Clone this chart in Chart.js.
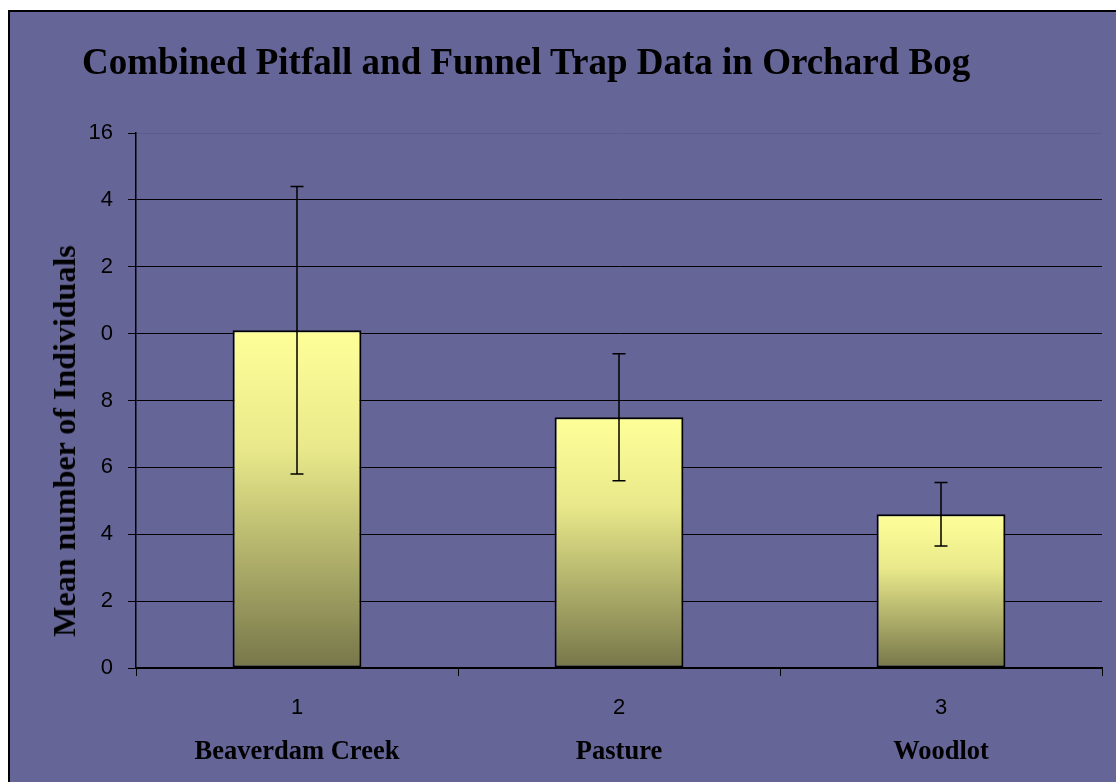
<!DOCTYPE html>
<html>
<head>
<meta charset="utf-8">
<title>Combined Pitfall and Funnel Trap Data in Orchard Bog</title>
<script src="https://cdn.jsdelivr.net/npm/chart.js@4.4.0/dist/chart.umd.min.js"></script>
<style>
  html, body { margin: 0; padding: 0; background: #fff; overflow: hidden; width: 1116px; height: 782px; }
  #frame { position: absolute; left: 8px; top: 10px; width: 1120px; height: 790px; background: #656598;
           border-left: 2px solid #000; border-top: 2px solid #000; }
  #wrap { position: absolute; left: 0; top: 0; width: 1116px; height: 782px; }
  #title { position: absolute; left: 82px; top: 43px; margin: 0; font: bold 37px 'Liberation Serif', 'Times New Roman', serif;
           line-height: 37px; color: #000; white-space: nowrap; }
  #ytitle { position: absolute; left: 64px; top: 441px; margin: 0; font: bold 32px 'Liberation Serif', 'Times New Roman', serif;
            line-height: 36px; color: #000; white-space: nowrap; transform: translate(-50%, -50%) rotate(-90deg); }
  canvas { position: absolute; left: 0; top: 0; }
</style>
</head>
<body>
<div id="frame"></div>
<div id="wrap">
  <canvas id="chart" width="1116" height="782"></canvas>
  <h1 id="title">Combined Pitfall and Funnel Trap Data in Orchard Bog</h1>
  <div id="ytitle">Mean number of Individuals</div>
</div>
<script>
// categories on the x axis and the site names printed under them
const categories = ['1', '2', '3'];
const siteNames = ['Beaverdam Creek', 'Pasture', 'Woodlot'];
// mean number of individuals and the error (+/-) for each site
const meanValues = [10.1, 7.5, 4.6];
const errorValues = [4.3, 1.9, 0.95];
// y tick labels as printed (the two-digit ones are cut short in the original)
const yTickLabels = ['0', '2', '4', '6', '8', '0', '2', '4', '16'];

const SERIF = "'Liberation Serif', 'Times New Roman', serif";
const SANS = "'Liberation Sans', Arial, sans-serif";

// per-bar vertical gradient, pale yellow on top to olive at the base
function barGradient(ctx) {
  const chart = ctx.chart;
  if (!chart.chartArea || ctx.type !== 'data') return '#ffff99';
  const y = chart.scales.y;
  const top = y.getPixelForValue(meanValues[ctx.dataIndex]);
  const bottom = y.getPixelForValue(0);
  const g = chart.ctx.createLinearGradient(0, top, 0, bottom);
  g.addColorStop(0, '#ffff99');
  g.addColorStop(0.35, '#e9e98b');
  g.addColorStop(1, '#76764a');
  return g;
}

const errorBars = {
  id: 'errorBars',
  afterDatasetsDraw(chart) {
    const meta = chart.getDatasetMeta(0);
    const y = chart.scales.y;
    const c = chart.ctx;
    c.save();
    c.strokeStyle = '#000';
    c.lineWidth = 1.5;
    meta.data.forEach((bar, i) => {
      const hi = y.getPixelForValue(meanValues[i] + errorValues[i]);
      const lo = y.getPixelForValue(meanValues[i] - errorValues[i]);
      c.beginPath();
      c.moveTo(bar.x, hi); c.lineTo(bar.x, lo);
      c.moveTo(bar.x - 6.5, hi); c.lineTo(bar.x + 6.5, hi);
      c.moveTo(bar.x - 6.5, lo); c.lineTo(bar.x + 6.5, lo);
      c.stroke();
    });
    c.restore();
  }
};

new Chart(document.getElementById('chart'), {
  type: 'bar',
  data: {
    labels: categories,
    datasets: [{
      data: meanValues,
      backgroundColor: barGradient,
      borderColor: '#000',
      borderWidth: 2,
      borderSkipped: false,
      categoryPercentage: 1,
      barPercentage: 0.4,
    }],
  },
  options: {
    responsive: false,
    devicePixelRatio: 1,
    animation: false,
    layout: { padding: { left: 0, right: 14, top: 133, bottom: 16 } },
    plugins: {
      legend: { display: false },
      tooltip: { enabled: false },
      title: { display: false },
    },
    scales: {
      x: {
        type: 'category',
        offset: true,
        grid: { offset: true, drawOnChartArea: false, color: '#000', tickColor: '#000', tickLength: 8 },
        border: { color: '#000', width: 1.5 },
        ticks: { color: '#000', padding: 19, font: { family: SANS, size: 22 } },
        afterFit: s => { s.height = 53; },
      },
      x2: {
        type: 'category',
        position: 'bottom',
        labels: siteNames,
        offset: true,
        weight: 1,
        grid: { display: false, drawTicks: false },
        border: { display: false },
        ticks: { color: '#000', padding: 15, font: { family: SERIF, size: 26.5, weight: 'bold' } },
        afterFit: s => { s.height = 45; },
      },
      y: {
        min: 0,
        max: 16,
        ticks: {
          stepSize: 2,
          color: '#000',
          padding: 15,
          font: { family: SANS, size: 22 },
          callback: (v, i) => yTickLabels[i],
        },
        grid: {
          color: c => (c.tick && c.tick.value === 16 ? '#5c5c8e' : '#000'),
          tickColor: '#000',
          tickLength: 8,
          lineWidth: 1,
        },
        border: { color: '#000', width: 1.5 },
        afterFit: s => { s.width = 136; },
      },
    },
  },
  plugins: [errorBars],
});
</script>
</body>
</html>
